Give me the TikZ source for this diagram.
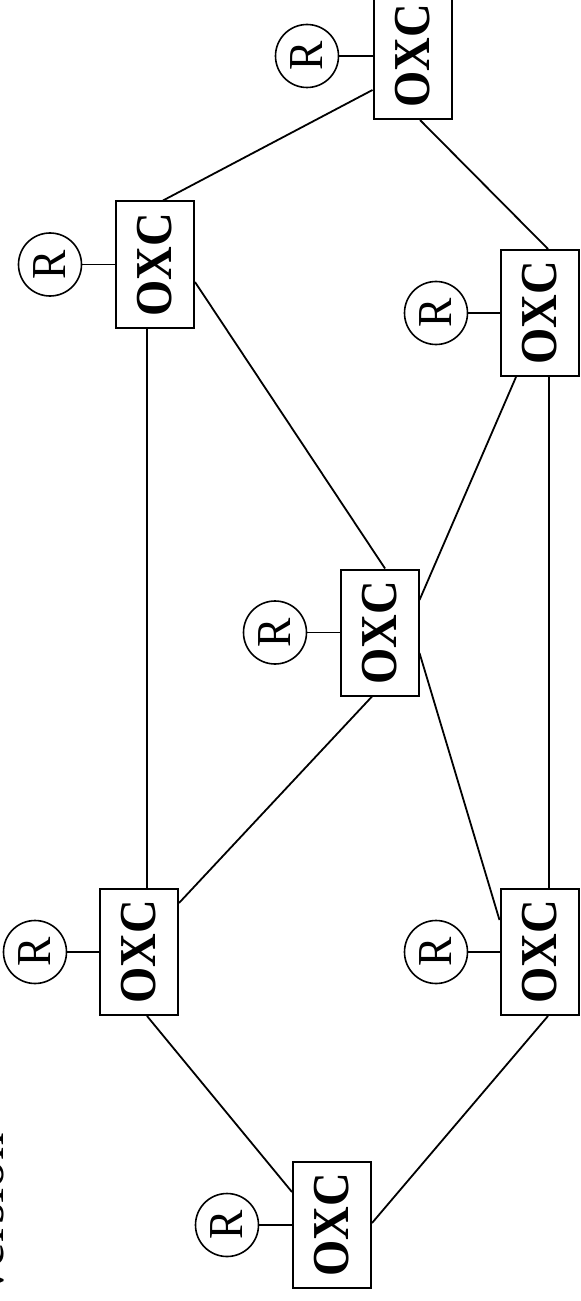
\documentclass[tikz,border=0pt]{standalone}
\usepackage{fontspec}
\setmainfont{Liberation Serif}
\newcommand\rotlbl[1]{\rotatebox{90}{\scalebox{0.9}[1]{#1}}}
\begin{document}
\begin{tikzpicture}[x=1bp,y=-1bp,
  oxc/.style={draw, line width=2bp, minimum width=78bp, minimum height=126bp, inner sep=0pt,
    font=\fontsize{52}{62}\selectfont\bfseries},
  rtr/.style={draw, circle, line width=1.6bp, minimum size=63bp, inner sep=0pt,
    font=\fontsize{49}{58}\selectfont},
  link/.style={line width=1.8bp}]
\useasboundingbox (0,0) rectangle (581,1301);

% OXC boxes
\node[oxc] (b1) at (412.5,56) {\rotlbl{OXC}};
\node[oxc] (b2) at (155,264.5) {\rotlbl{OXC}};
\node[oxc] (b3) at (379.5,632.5) {\rotlbl{OXC}};
\node[oxc] (b4) at (539.5,313) {\rotlbl{OXC}};
\node[oxc] (b5) at (139,952) {\rotlbl{OXC}};
\node[oxc] (b6) at (539.5,952) {\rotlbl{OXC}};
\node[oxc] (b7) at (332,1225) {\rotlbl{OXC}};

% routers
\node[rtr] (r1) at (307,56) {\rotlbl{R}};
\node[rtr] (r2) at (50,264.5) {\rotlbl{R}};
\node[rtr] (r3) at (275,632.5) {\rotlbl{R}};
\node[rtr] (r4) at (436,313) {\rotlbl{R}};
\node[rtr] (r5) at (35,952) {\rotlbl{R}};
\node[rtr] (r6) at (436,952) {\rotlbl{R}};
\node[rtr] (r7) at (227,1225) {\rotlbl{R}};

\foreach \i in {1,...,7} \draw[link] (r\i.east) -- (b\i.west);

% links between OXCs
\draw[link] (b1.west |- 0,90) -- (b2.north -| 163,0);
\draw[link] (b1.south -| 420,0) -- (b4.north -| 548,0);
\draw[link] (b2.east |- 0,282) -- (b3.north -| 385,0);
\draw[link] (b2.south -| 147,0) -- (b5.north -| 147,0);
\draw[link] (b3.east |- 0,600) -- (b4.south -| 516,0);
\draw[link] (b3.east |- 0,653) -- (b6.west |- 0,920);
\draw[link] (b3.south -| 372,0) -- (b5.east |- 0,903);
\draw[link] (b4.south -| 549,0) -- (b6.north -| 549,0);
\draw[link] (b5.south -| 147,0) -- (b7.west |- 0,1192);
\draw[link] (b7.east |- 0,1223) -- (b6.south -| 548,0);

% cut-off caption
\node[rotate=90, anchor=base east, inner sep=0pt, font=\fontsize{55}{66}\selectfont] (cap) at (3,1133) {version};
\end{tikzpicture}
\end{document}
